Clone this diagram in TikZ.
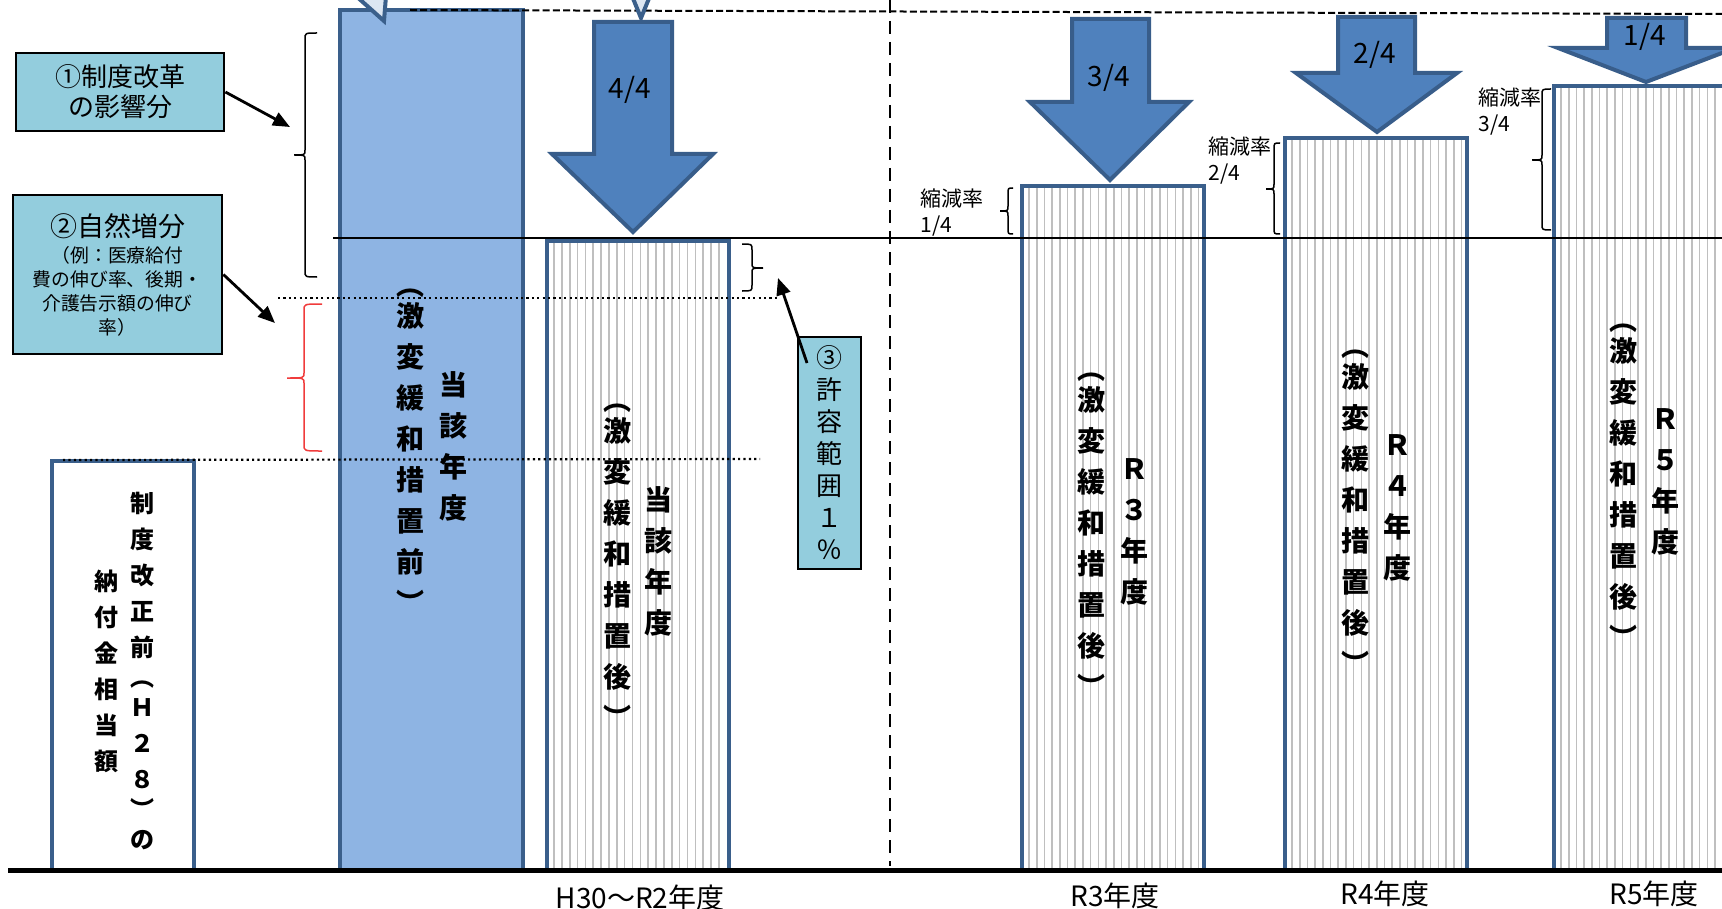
\documentclass[tikz,border=0pt]{standalone}
\usepackage{fontspec}
\newfontfamily\jp{Noto Sans CJK JP}
\usetikzlibrary{arrows.meta}
\definecolor{barline}{HTML}{3A5F8B}
\definecolor{barfill}{HTML}{8EB4E3}
\definecolor{arrfill}{HTML}{4F81BD}
\definecolor{arrline}{HTML}{385D8A}
\definecolor{lightfill}{HTML}{DCE6F2}
\definecolor{boxteal}{HTML}{93CDDD}
\definecolor{stripegray}{HTML}{BFBFBF}
\definecolor{bracered}{HTML}{F03C3C}
\tikzset{
  barframe/.style={draw=barline, line width=2.3pt},
  stripeline/.style={draw=stripegray, line width=0.8pt},
  bigarrow/.style={fill=arrfill, draw=arrline, line width=2pt, line join=miter},
  tipshape/.style={fill=lightfill, draw=barline, line width=2pt, line join=miter},
  infobox/.style={draw=black, fill=boxteal, line width=1.4pt, inner sep=0pt, align=center},
  vcol/.style={font=\jp\bfseries\fontsize{14}{20.5}\selectfont, align=center, inner sep=0pt},
  vcolsmall/.style={font=\jp\bfseries\fontsize{12}{18}\selectfont, align=center, inner sep=0pt},
  arrlabel/.style={font=\jp\fontsize{14}{16}\selectfont, inner sep=0pt},
  ratelabel/.style={font=\jp\fontsize{10.5}{13}\selectfont, align=left, inner sep=0pt, anchor=west},
  yearlabel/.style={font=\jp\fontsize{14}{16}\selectfont, inner sep=0pt},
  bracestyle/.style={draw=black, line width=0.75pt},
  pointer/.style={draw=black, line width=1.4pt, -{Triangle[length=8.5pt,width=7pt]}},
  dotline/.style={draw=black, line width=1.1pt, dash pattern=on 1.1pt off 1.6pt},
  topdash/.style={draw=black, line width=1pt, dash pattern=on 3.5pt off 1.6pt},
  vdash/.style={draw=black, line width=1pt, dash pattern=on 6.5pt off 4pt}
}
% vertical brace: #1 style, #2 x of ends, #3 x of spine, #4 x of tip, #5 top y, #6 bottom y, #7 tip y
\newcommand\vbracepath[7]{%
  \draw[#1] (#2,#5) .. controls (#3,#5) .. (#3,#5+6) -- (#3,#7-5)
    .. controls (#3,#7) .. (#4,#7) .. controls (#3,#7) .. (#3,#7+5)
    -- (#3,#6-6) .. controls (#3,#6) .. (#2,#6);}
\begin{document}
\begin{tikzpicture}[x=0.5pt,y=-0.5pt]
\useasboundingbox (0,0) rectangle (1722,909);
\clip (0,0) rectangle (1722,909);

% ---- bars ----
\draw[barframe, fill=white] (52,461) rectangle (194,870);
\draw[barframe, fill=barfill] (340,10) rectangle (523,870);

\fill[white] (547,241) rectangle (729,870);
\foreach \x in {554,561.85,...,723} \draw[stripeline] (\x,243) -- (\x,868);
\draw[barframe] (547,241) rectangle (729,870);

\fill[white] (1022,186) rectangle (1204,870);
\foreach \x in {1029,1036.7,...,1199} \draw[stripeline] (\x,188) -- (\x,868);
\draw[barframe] (1022,186) rectangle (1204,870);

\fill[white] (1285,138) rectangle (1467,870);
\foreach \x in {1292,1299.7,...,1462} \draw[stripeline] (\x,140) -- (\x,868);
\draw[barframe] (1285,138) rectangle (1467,870);

\fill[white] (1554,86) rectangle (1760,870);
\foreach \x in {1561,1568.7,...,1722} \draw[stripeline] (\x,88) -- (\x,868);
\draw[barframe] (1554,86) rectangle (1760,870);

% ---- reference lines ----
\draw[black, line width=1.4pt] (333,238) -- (1722,238);
\draw[topdash] (410,10) -- (1722,14);
\draw[vdash] (890,0) -- (890,866);
\draw[dotline] (278,298) -- (777,298);
\draw[dotline] (63,460) -- (760,459);
\draw[black, line width=2.5pt] (8,870) -- (1722,870);

% ---- partial arrow tips at top ----
\draw[tipshape] (356,-4) -- (384,21) -- (386,-4) -- cycle;
\draw[tipshape] (632,-4) -- (641,18) -- (650,-4) -- cycle;

% ---- reduction arrows ----
\draw[bigarrow] (594,22) -- (672,22) -- (672,154) -- (713,154) -- (633,232) -- (552,154) -- (594,154) -- cycle;
\node[arrlabel] (a44) at (630,90) {4/4};
\draw[bigarrow] (1072,19) -- (1149,19) -- (1149,102) -- (1189,102) -- (1110,180) -- (1030,102) -- (1072,102) -- cycle;
\node[arrlabel] (a34) at (1109,78) {3/4};
\draw[bigarrow] (1338,17) -- (1415,17) -- (1415,73) -- (1457,73) -- (1377,132) -- (1296,73) -- (1338,73) -- cycle;
\node[arrlabel] (a24) at (1375,55) {2/4};
\draw[bigarrow] (1607,18) -- (1686,18) -- (1686,48) -- (1735,48) -- (1646,82) -- (1558,48) -- (1607,48) -- cycle;
\node[arrlabel] (a14) at (1645,37) {1/4};

% ---- braces ----
\vbracepath{bracestyle}{317}{305}{294}{33}{277}{155}
\vbracepath{bracestyle, draw=bracered}{322}{304}{287}{304}{451}{378}
\vbracepath{bracestyle}{742}{752}{763}{244}{291}{268}
\vbracepath{bracestyle}{1013}{1008}{1000}{188}{234}{211}
\vbracepath{bracestyle}{1280}{1274}{1266}{143}{234}{189}
\vbracepath{bracestyle}{1551}{1542}{1532}{89}{230}{160}

% ---- rate labels ----
\node[ratelabel] (r1) at (920,213) {縮減率\\1/4};
\node[ratelabel] (r2) at (1208,161) {縮減率\\2/4};
\node[ratelabel] (r3) at (1478,112) {縮減率\\3/4};

% ---- info boxes ----
\node[infobox, minimum width=104pt, minimum height=39pt, font=\jp\fontsize{13}{15}\selectfont] (box1) at (120,92) {①制度改革\\の影響分};
\node[infobox, minimum width=104.5pt, minimum height=79.5pt] (box2) at (117.5,274.5)
  {{\jp\fontsize{13.5}{15}\selectfont ②自然増分}\\[1pt]
   {\jp\fontsize{9.4}{12.5}\selectfont （例：医療給付}\\
   {\jp\fontsize{9.4}{12.5}\selectfont 費の伸び率、後期・}\\
   {\jp\fontsize{9.4}{12.5}\selectfont 介護告示額の伸び}\\
   {\jp\fontsize{9.4}{12.5}\selectfont 率）}};
\node[infobox, minimum width=31.5pt, minimum height=116pt, font=\jp\fontsize{13}{16}\selectfont] (box3) at (829.5,453) {③\\許\\容\\範\\囲\\１\\％};

\coordinate (t1) at (290,127);
\coordinate (t2) at (275,323);
\coordinate (s3) at (807,363);
\coordinate (t3) at (778,278);
\draw[pointer] (box1.east) -- (t1);
\draw[pointer] (box2.east) -- (t2);
\draw[pointer] (s3) -- (t3);

% ---- vertical texts ----
\node[vcolsmall] (lb1) at (142,671) {制\\度\\改\\正\\前\\[-3pt]︵\\[-3pt]Ｈ\\２\\８\\[-3pt]︶\\[-3pt]の};
\node[vcolsmall] (lb2) at (106,671) {納\\付\\金\\相\\当\\額};

\node[vcol] (bb1) at (410,451) {︵\\[-5pt]激\\変\\緩\\和\\措\\置\\前\\︶};
\node[vcol] (bb2) at (453,446) {当\\該\\年\\度};

\node[vcol] (hb1) at (617,566) {︵\\[-5pt]激\\変\\緩\\和\\措\\置\\後\\︶};
\node[vcol] (hb2) at (658,561) {当\\該\\年\\度};

\node[vcol] (r3a) at (1091,535) {︵\\[-5pt]激\\変\\緩\\和\\措\\置\\後\\︶};
\node[vcol] (r3b) at (1134,532) {Ｒ\\３\\年\\度};
\node[vcol] (r4a) at (1355,512) {︵\\[-5pt]激\\変\\緩\\和\\措\\置\\後\\︶};
\node[vcol] (r4b) at (1397,508) {Ｒ\\４\\年\\度};
\node[vcol] (r5a) at (1623,486) {︵\\[-5pt]激\\変\\緩\\和\\措\\置\\後\\︶};
\node[vcol] (r5b) at (1665,482) {Ｒ\\５\\年\\度};

% ---- year labels ----
\node[yearlabel] (y1) at (640,898) {H30～R2年度};
\node[yearlabel] (y2) at (1115,896) {R3年度};
\node[yearlabel] (y3) at (1385,894) {R4年度};
\node[yearlabel] (y4) at (1654,894) {R5年度};
\end{tikzpicture}
\end{document}
